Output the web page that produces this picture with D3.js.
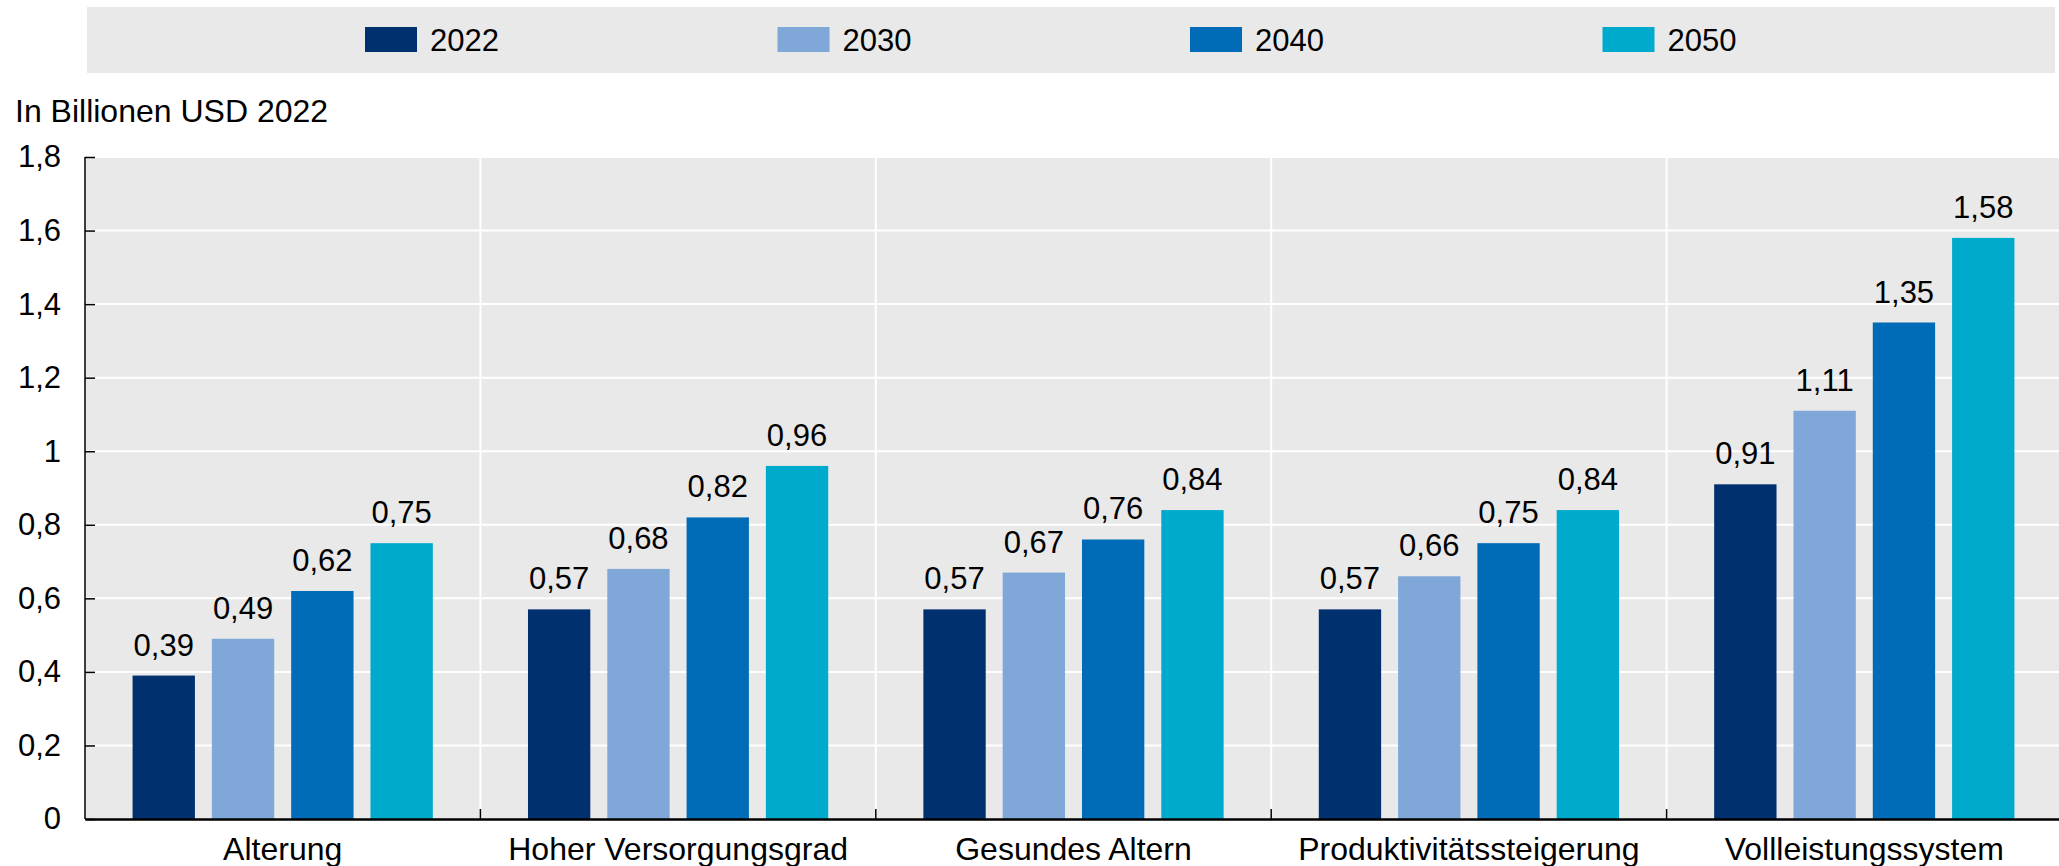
<!DOCTYPE html>
<html>
<head>
<meta charset="utf-8">
<script src="https://cdn.jsdelivr.net/npm/d3@7"></script>
<style>
  body { margin: 0; background: #fff; }
  svg { display: block; font-family: "Liberation Sans", Arial, sans-serif; }
</style>
</head>
<body>
<svg id="chart" width="2059" height="866"></svg>
<script>
// data
var categories = ['Alterung', 'Hoher Versorgungsgrad', 'Gesundes Altern', 'Produktivitätssteigerung', 'Vollleistungssystem'];
var years = ['2022', '2030', '2040', '2050'];
var v2022 = [0.39, 0.57, 0.57, 0.57, 0.91];
var v2030 = [0.49, 0.68, 0.67, 0.66, 1.11];
var v2040 = [0.62, 0.82, 0.76, 0.75, 1.35];
var v2050 = [0.75, 0.96, 0.84, 0.84, 1.58];
var yTicks = [0, 0.2, 0.4, 0.6, 0.8, 1, 1.2, 1.4, 1.6, 1.8];
var colors = ['#00306e', '#7fa8d9', '#006bb6', '#00aacc'];

var seriesVals = [v2022, v2030, v2040, v2050];
var rows = categories.map(function(c, i) {
  return { cat: c, vals: years.map(function(y, j) { return { year: y, v: seriesVals[j][i] }; }) };
});

var svg = d3.select('#chart'),
  fs = 31,
  pLeft = 85, pTop = 157, pRight = 2062, pBottom = 819;

var comma = function(v) { return String(+v.toFixed(2)).replace('.', ','); };

var x0 = d3.scaleBand().domain(categories).range([pLeft, pRight]).padding(0);
var x1 = d3.scaleBand().domain(years).range([0, x0.bandwidth()]).paddingInner(0.214).paddingOuter(0.6);
var y = d3.scaleLinear().domain([0, 1.8]).range([pBottom, pTop]);
var color = d3.scaleOrdinal().domain(years).range(colors);

// legend box
svg.append('rect')
  .attr('x', 87).attr('y', 7).attr('width', 1968).attr('height', 66)
  .attr('fill', '#e9e9e9');
var leg = svg.selectAll('.leg').data(years).enter().append('g')
  .attr('class', 'leg')
  .attr('transform', function(d, i) { return 'translate(' + (365 + i * 412.5) + ',27)'; });
leg.append('rect').attr('width', 52).attr('height', 25).attr('fill', function(d) { return color(d); });
leg.append('text').attr('x', 65).attr('y', 24).attr('font-size', fs).attr('fill', '#000').text(function(d) { return d; });

// unit title
svg.append('text').attr('x', 15).attr('y', 122).attr('font-size', 32).text('In Billionen USD 2022');

// plot bg
svg.append('rect')
  .attr('x', pLeft).attr('y', pTop).attr('width', pRight - pLeft).attr('height', pBottom - pTop)
  .attr('fill', '#e9e9e9');

// gridlines
svg.selectAll('.grid').data(yTicks.slice(1)).enter().append('line')
  .attr('class', 'grid')
  .attr('x1', pLeft).attr('x2', pRight)
  .attr('y1', function(d) { return y(d); }).attr('y2', function(d) { return y(d); })
  .attr('stroke', '#fff').attr('stroke-width', 2);
svg.selectAll('.vdiv').data(categories.slice(1)).enter().append('line')
  .attr('class', 'vdiv')
  .attr('x1', function(d) { return x0(d); }).attr('x2', function(d) { return x0(d); })
  .attr('y1', pTop).attr('y2', pBottom)
  .attr('stroke', '#fff').attr('stroke-width', 2);

// bars
var g = svg.selectAll('.cat').data(rows).enter().append('g')
  .attr('class', 'cat')
  .attr('transform', function(d) { return 'translate(' + x0(d.cat) + ',0)'; });
g.selectAll('rect').data(function(d) { return d.vals; }).enter().append('rect')
  .attr('x', function(d) { return x1(d.year); })
  .attr('width', x1.bandwidth())
  .attr('y', function(d) { return y(d.v); })
  .attr('height', function(d) { return pBottom - y(d.v); })
  .attr('fill', function(d) { return color(d.year); });
g.selectAll('text').data(function(d) { return d.vals; }).enter().append('text')
  .attr('x', function(d) { return x1(d.year) + x1.bandwidth() / 2; })
  .attr('y', function(d) { return y(d.v) - 20; })
  .attr('text-anchor', 'middle')
  .attr('font-size', fs)
  .text(function(d) { return comma(d.v); });

// y axis
var yAxis = d3.axisLeft(y).tickValues(yTicks).tickSize(-10).tickPadding(24).tickFormat(comma);
var ya = svg.append('g').attr('transform', 'translate(' + pLeft + ',0)').call(yAxis);
ya.select('.domain').attr('stroke', '#000').attr('stroke-width', 1.5).attr('d', 'M0,' + pTop + 'V' + pBottom);
ya.selectAll('.tick line').attr('stroke', '#000').attr('stroke-width', 1.5);
ya.selectAll('.tick text').attr('font-size', fs).attr('font-family', null).attr('fill', '#000');

// x axis
var xa = svg.append('g').attr('transform', 'translate(0,' + pBottom + ')')
  .call(d3.axisBottom(x0).tickSize(0).tickPadding(18));
xa.select('.domain').attr('stroke', '#000').attr('stroke-width', 2.5);
xa.selectAll('.tick text').attr('font-size', 32).attr('font-family', null).attr('fill', '#000');
svg.selectAll('.ctick').data(categories.slice(1)).enter().append('line')
  .attr('class', 'ctick')
  .attr('x1', function(d) { return x0(d); }).attr('x2', function(d) { return x0(d); })
  .attr('y1', pBottom - 10).attr('y2', pBottom)
  .attr('stroke', '#000').attr('stroke-width', 1.5);
</script>
</body>
</html>
